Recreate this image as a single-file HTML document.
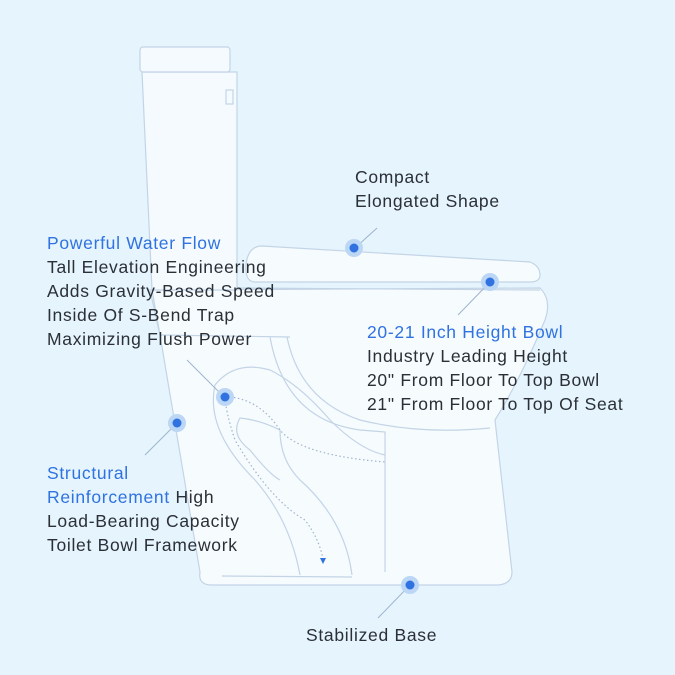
<!DOCTYPE html>
<html><head><style>
html,body{margin:0;padding:0}
body{width:675px;height:675px;background:#e5f4fd;position:relative;overflow:hidden;font-family:"Liberation Sans",sans-serif}
.t{position:absolute;font-size:17.5px;letter-spacing:0.7px;line-height:24px;color:#2b2f36;white-space:nowrap}
.b{color:#2f72e0}
</style></head><body>
<svg width="675" height="675" style="position:absolute;left:0;top:0" fill="none" stroke="#c3d4e6" stroke-width="1.2">
<!-- bowl body -->
<path d="M150 290 L540 288 Q552 300 545 320 Q520 380 495 420 L512 572 Q512 584 498 585 L210 585 Q198 584 200 572 L160 335 Z" fill="#f6fbfe"/>
<!-- tank body -->
<path d="M142 72 L237 72 L237 290 L152 290 Z" fill="#f4fafe"/>
<rect x="140" y="47" width="90" height="25" rx="3" fill="#f4fafe"/>
<rect x="226" y="90" width="7" height="14" fill="#f4fafe"/>
<path d="M152 290 L160 335"/>
<!-- seat -->
<path d="M262 246 L530 262 Q540 266 540 275 Q540 282 530 282 L255 282 Q245 282 246 265 Q248 246 262 246 Z" fill="#f6fbfe"/>
<path d="M237 288 L540 290"/>
<!-- bowl interior -->
<path d="M287 337 Q300 400 360 420 Q420 435 490 428"/>
<path d="M270 337 Q285 420 360 430 L385 432 L385 572"/>
<path d="M160 335 L290 337"/>
<!-- trap -->
<path d="M300 575 Q290 520 255 480 Q205 430 215 385 Q235 360 270 370 Q300 385 330 420 Q360 450 385 455"/>
<path d="M352 575 Q345 520 300 480 Q280 460 280 430 Q260 420 240 418 Q230 435 250 450 Q270 475 280 480"/>
<path d="M222 576 L352 577"/>
<path d="M225 395 Q225 410 235 440 Q270 500 305 520 Q320 540 323 560" stroke="#9fb4cc" stroke-dasharray="1.5 2.5"/>
<path d="M230 397 Q260 400 280 430 Q300 455 385 462" stroke="#9fb4cc" stroke-dasharray="1.5 2.5"/>
<polygon points="320,558 326,558 323,564" fill="#2f72e0" stroke="none"/>
<g stroke="#9fb4cc" stroke-width="1">
<line x1="355" y1="248" x2="377" y2="228"/>
<line x1="490" y1="282" x2="458" y2="315"/>
<line x1="225" y1="398" x2="187" y2="360"/>
<line x1="177" y1="423" x2="145" y2="455"/>
<line x1="410" y1="585" x2="378" y2="618"/>
</g>
<g stroke="none">
<circle cx="354" cy="248" r="9" fill="#bcd6f5"/><circle cx="354" cy="248" r="4.5" fill="#2f72e0"/>
<circle cx="490" cy="282" r="9" fill="#bcd6f5"/><circle cx="490" cy="282" r="4.5" fill="#2f72e0"/>
<circle cx="225" cy="397" r="9" fill="#bcd6f5"/><circle cx="225" cy="397" r="4.5" fill="#2f72e0"/>
<circle cx="177" cy="423" r="9" fill="#bcd6f5"/><circle cx="177" cy="423" r="4.5" fill="#2f72e0"/>
<circle cx="410" cy="585" r="9" fill="#bcd6f5"/><circle cx="410" cy="585" r="4.5" fill="#2f72e0"/>
</g>
</svg>
<div class="t" style="left:355px;top:165px">Compact<br>Elongated Shape</div>
<div class="t" style="left:47px;top:231px"><span class="b">Powerful Water Flow</span><br>Tall Elevation Engineering<br>Adds Gravity-Based Speed<br>Inside Of S-Bend Trap<br>Maximizing Flush Power</div>
<div class="t" style="left:367px;top:320px"><span class="b">20-21 Inch Height Bowl</span><br>Industry Leading Height<br>20" From Floor To Top Bowl<br>21" From Floor To Top Of Seat</div>
<div class="t" style="left:47px;top:461px"><span class="b">Structural<br>Reinforcement</span> High<br>Load-Bearing Capacity<br>Toilet Bowl Framework</div>
<div class="t" style="left:306px;top:623px">Stabilized Base</div>
</body></html>
